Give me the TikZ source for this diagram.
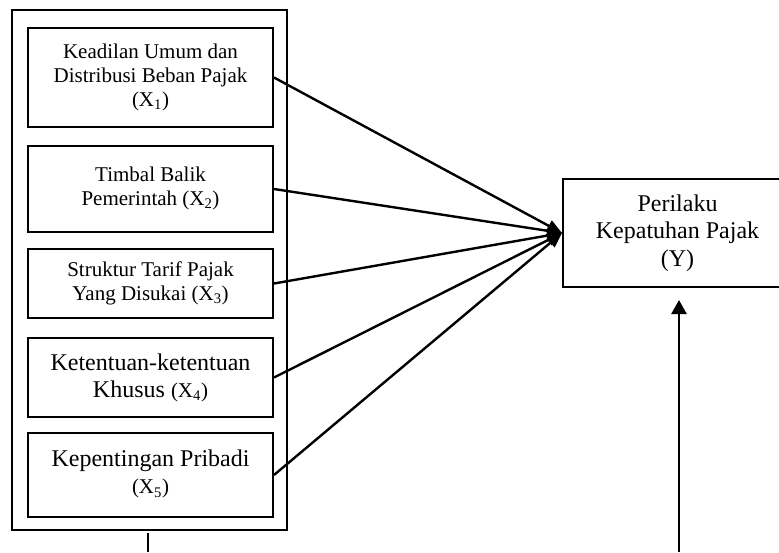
\documentclass[tikz,border=0pt]{standalone}
\usepackage{fontspec}
\setmainfont{Liberation Serif}
\usetikzlibrary{arrows.meta}
\begin{document}
\begin{tikzpicture}[x=1pt,y=-1pt,
  xbox/.style={draw, line width=2pt, minimum width=245pt, align=center, inner sep=0pt},
  small/.style={font=\fontsize{21}{24}\selectfont},
  big/.style={font=\fontsize{24}{27}\selectfont},
  conn/.style={line width=2.4pt, -{Triangle[length=15pt,width=12pt]}}]
\useasboundingbox (0,0) rectangle (779,552);
\node[draw, line width=2pt, minimum width=275pt, minimum height=520pt, inner sep=0pt] (outer) at (149.5,270) {};
\node[xbox, small, minimum height=99pt] (x1) at (150.5,77.5) {Keadilan Umum dan\\Distribusi Beban Pajak\\(X\textsubscript{1})};
\node[xbox, small, minimum height=86pt] (x2) at (150.5,189) {\raisebox{7pt}{\begin{tabular}{@{}c@{}}Timbal Balik\\Pemerintah (X\textsubscript{2})\end{tabular}}};
\node[xbox, small, minimum height=69pt] (x3) at (150.5,283.5) {\raisebox{3pt}{\begin{tabular}{@{}c@{}}Struktur Tarif Pajak\\Yang Disukai (X\textsubscript{3})\end{tabular}}};
\node[xbox, big, minimum height=79pt] (x4) at (150.5,377.5) {Ketentuan-ketentuan\\Khusus {\fontsize{21}{24}\selectfont(X\textsubscript{4})}};
\node[xbox, big, minimum height=84pt] (x5) at (150.5,475) {\raisebox{4pt}{\begin{tabular}{@{}c@{}}Kepentingan Pribadi\\{\fontsize{21}{24}\selectfont(X\textsubscript{5})}\end{tabular}}};
\node[draw, line width=2pt, font=\fontsize{24}{27.5}\selectfont, minimum width=229pt, minimum height=108pt, align=center, inner sep=0pt] (y) at (677.5,233) {\raisebox{-3pt}{\begin{tabular}{@{}c@{}}Perilaku\\Kepatuhan Pajak\\(Y)\end{tabular}}};
\foreach \i in {1,...,5} \draw[conn] (x\i.east) -- (y.west);
\coordinate (lb) at (148,533);
\coordinate (le) at (148,552);
\draw[line width=2.4pt] (lb) -- (le);
\coordinate (ya) at (679,552);
\draw[line width=2.4pt, -{Triangle[length=14pt,width=15pt]}, shorten >=12pt] (ya) -- (ya |- y.south);
\end{tikzpicture}
\end{document}
